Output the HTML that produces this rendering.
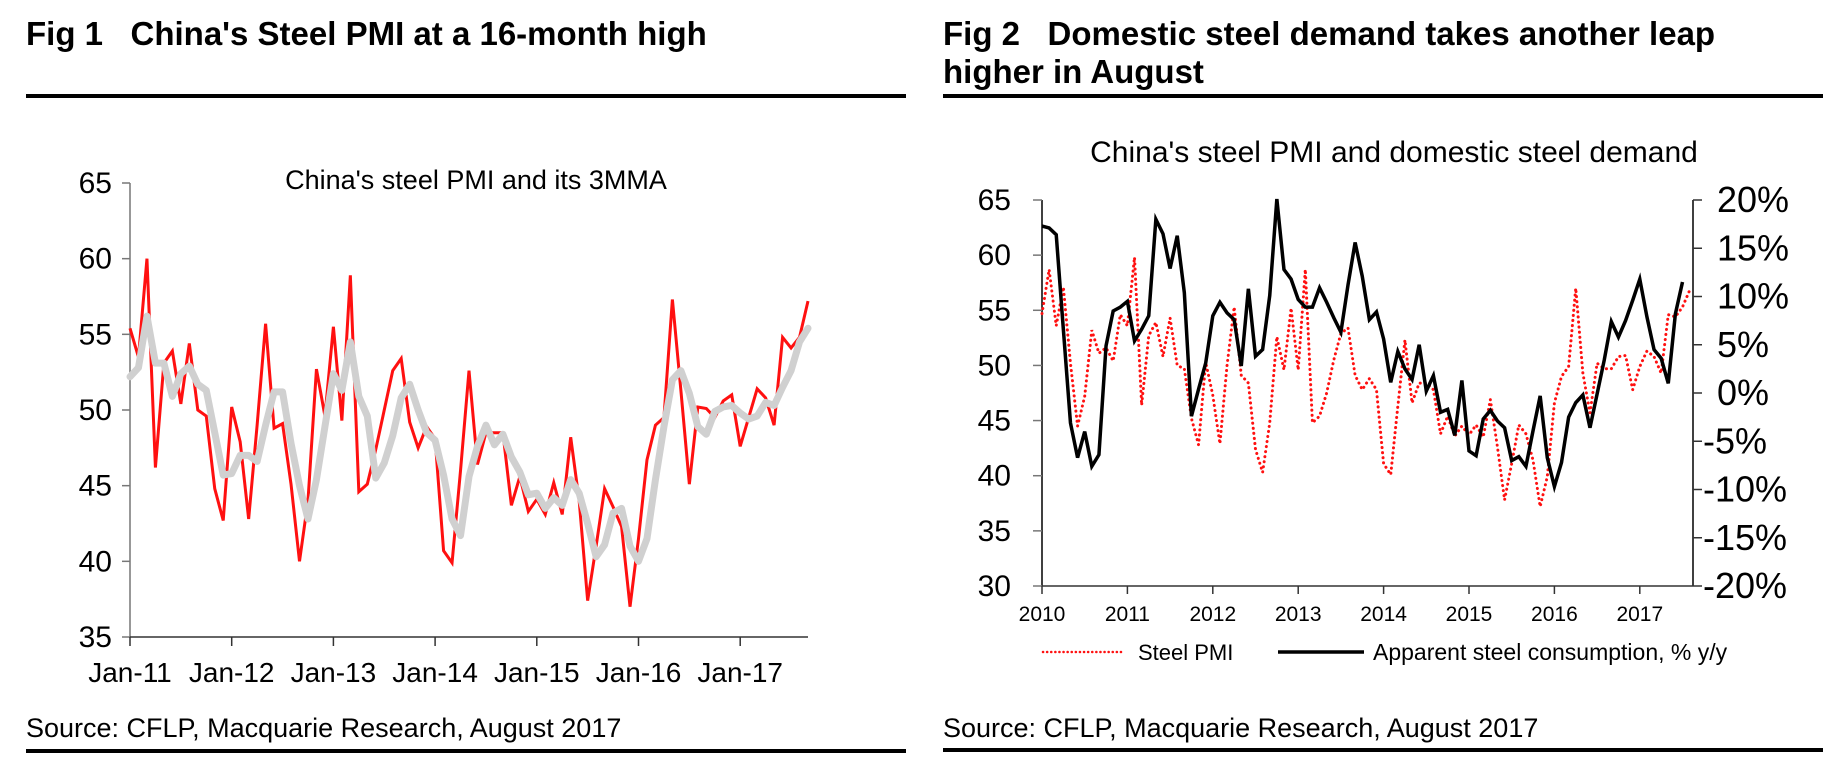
<!DOCTYPE html>
<html><head><meta charset="utf-8"><title>Steel PMI charts</title>
<style>
html,body{margin:0;padding:0;background:#fff;}
svg{display:block;font-family:"Liberation Sans",Arial,sans-serif;}
</style></head>
<body>
<svg id="root" width="1839" height="762" viewBox="0 0 1839 762" xmlns="http://www.w3.org/2000/svg">
  <text x="26" y="45" font-size="33" font-weight="bold">Fig 1&#160;&#160;&#160;China's Steel PMI at a 16-month high</text>
  <rect x="26" y="94" width="880" height="4" fill="#000"/>
  <text x="943" y="45" font-size="33" font-weight="bold">Fig 2&#160;&#160;&#160;Domestic steel demand takes another leap</text>
  <text x="943" y="83" font-size="33" font-weight="bold">higher in August</text>
  <rect x="943" y="94" width="880" height="4" fill="#000"/>

  <text x="476" y="189" font-size="27" text-anchor="middle">China's steel PMI and its 3MMA</text>
  <text x="1394" y="162" font-size="30" text-anchor="middle">China's steel PMI and domestic steel demand</text>

  <g id="c1"></g>
  <g id="c2"></g>

  <text x="26" y="737" font-size="27">Source: CFLP, Macquarie Research, August 2017</text>
  <rect x="26" y="749" width="880" height="4" fill="#000"/>
  <text x="943" y="737" font-size="27">Source: CFLP, Macquarie Research, August 2017</text>
  <rect x="943" y="748" width="880" height="4" fill="#000"/>
</svg>
<script>
// ---------- Fig 1 data (monthly, Jan-11 .. Sep-17) ----------
const pmi1 = [55.4,53.5,60.0,46.2,53.1,53.9,50.4,54.4,50.0,49.6,44.8,42.7,50.2,47.9,42.8,49.0,55.7,48.8,49.1,45.1,40.0,44.0,52.7,49.6,55.5,49.3,58.9,44.6,45.1,47.4,50.0,52.6,53.4,49.2,47.5,48.9,48.1,40.7,39.9,46.0,52.6,46.4,48.5,48.5,48.5,43.7,45.6,43.3,44.1,43.1,45.2,43.1,48.2,44.0,37.4,41.0,44.8,43.6,42.3,37.0,41.5,46.7,49.0,49.5,57.3,51.3,45.1,50.2,50.1,49.5,50.6,51.0,47.6,49.5,51.4,50.8,49.0,54.8,54.1,54.8,57.2];
const mma1 = [52.2,52.8,56.2,53.1,53.1,50.9,52.4,52.9,51.7,51.3,48.5,45.7,45.8,47.0,47.0,46.6,49.0,51.2,51.2,47.8,45.0,42.8,45.4,48.9,52.4,51.3,54.5,50.9,49.6,45.5,46.5,48.3,50.8,51.7,50.0,48.5,48.0,45.7,42.8,41.7,45.6,47.6,49.0,47.7,48.4,46.9,45.9,44.4,44.5,43.5,44.2,43.7,45.4,44.5,42.5,40.3,41.1,43.2,43.5,41.0,40.0,41.5,45.4,48.9,52.0,52.6,51.1,48.9,48.4,49.9,50.2,50.3,49.8,49.4,49.6,50.5,50.3,51.5,52.6,54.5,55.4];
const yTicks1 = [35,40,45,50,55,60,65];
const xLabels1 = ["Jan-11","Jan-12","Jan-13","Jan-14","Jan-15","Jan-16","Jan-17"];

// ---------- Fig 2 data (monthly, Jan-10 ..) ----------
const pmi2 = [54.7,58.7,53.6,57.1,50.2,44.5,47.2,53.2,51.1,51.6,50.4,54.6,53.6,59.8,46.4,52.7,53.9,50.8,54.3,50.0,49.7,45.2,42.8,50.3,47.3,42.9,50.0,55.3,49.1,48.4,42.4,40.3,44.8,52.6,49.6,55.2,49.6,58.7,44.8,45.4,47.5,50.5,52.9,53.4,49.1,47.8,48.8,47.8,41.1,40.1,46.3,52.3,46.6,48.4,48.4,47.8,43.8,45.4,43.6,44.5,43.7,44.6,43.5,46.9,42.6,37.8,41.1,44.6,43.8,41.4,37.2,39.9,46.6,49.0,49.9,57.0,49.3,45.7,50.2,49.7,49.7,50.8,50.9,47.8,49.9,51.3,50.8,49.3,54.6,54.4,55.3,56.8];
const consumption = [17.3,17.1,16.4,6.6,-3.1,-6.7,-4.0,-7.6,-6.4,4.9,8.5,8.9,9.5,5.4,6.6,8.0,18.0,16.5,12.9,16.3,10.4,-2.4,0.4,3.1,8.0,9.4,8.3,7.6,2.8,10.8,3.8,4.5,10.1,20.1,12.8,11.8,9.7,8.9,8.9,10.9,9.4,7.8,6.3,11.2,15.6,12.1,7.6,8.4,5.6,1.1,4.3,2.5,1.4,5.0,0.2,1.8,-2.0,-1.7,-4.4,1.3,-6.0,-6.5,-2.7,-1.8,-2.9,-3.6,-7.0,-6.6,-7.6,-3.9,-0.3,-6.7,-9.7,-7.2,-2.5,-1.0,-0.2,-3.6,-0.1,3.4,7.4,5.8,7.5,9.6,11.8,7.9,4.5,3.6,1.0,8.2,11.5];
const yTicksL2 = [30,35,40,45,50,55,60,65];
const yTicksR2 = [-20,-15,-10,-5,0,5,10,15,20];
const xLabels2 = ["2010","2011","2012","2013","2014","2015","2016","2017"];

const NS = "http://www.w3.org/2000/svg";
function mk(tag, attrs, parent){ const e=document.createElementNS(NS,tag); for(const k in attrs) e.setAttribute(k,attrs[k]); parent.appendChild(e); return e; }

// ---------- Fig 1 ----------
(function(){
  const g = document.getElementById('c1');
  const x0=130, x1=808, yTop=183, yBot=637, vMin=35, vMax=65;
  const n = pmi1.length;
  const xs = i => x0 + i*(x1-x0)/(n-1);
  const ys = v => yBot - (v-vMin)/(vMax-vMin)*(yBot-yTop);
  const yAxis = mk('line',{x1:x0,y1:yTop,x2:x0,y2:yBot,stroke:'#777','stroke-width':1.5},g);
  
  
  const xAxis = mk('line',{x1:x0,y1:yBot,x2:x1,y2:yBot,stroke:'#333','stroke-width':1.5},g);
  
  
  yTicks1.forEach(v=>{
    const t = mk('line',{x1:x0-8,y1:ys(v),x2:x0,y2:ys(v),stroke:'#777','stroke-width':1.5},g);
    
    
    const l = mk('text',{x:x0-18,y:ys(v)+10,'font-size':30,'text-anchor':'end'},g);
    l.textContent = v;
    
    
  });
  xLabels1.forEach((s,k)=>{
    const x = xs(k*12);
    const t = mk('line',{x1:x,y1:yBot,x2:x,y2:yBot+9,stroke:'#333','stroke-width':1.5},g);
    
    
    const l = mk('text',{x:x,y:yBot+45,'font-size':28,'text-anchor':'middle'},g);
    l.textContent = s;
    
    
  });
  const red = mk('polyline',{points:pmi1.map((v,i)=>xs(i)+','+ys(v)).join(' '),fill:'none',stroke:'#ff1010','stroke-width':3,'stroke-linejoin':'miter'},g);
  
  
  const grey = mk('polyline',{points:mma1.map((v,i)=>xs(i)+','+ys(v)).join(' '),fill:'none',stroke:'#d0d0d0','stroke-width':7,'stroke-linejoin':'round','stroke-linecap':'round'},g);
  
  
})();

// ---------- Fig 2 ----------
(function(){
  const g = document.getElementById('c2');
  const x0=1042, xR=1693, yTop=200, yBot=586;
  const step = 85.4/12;
  const xs = i => x0 + i*step;
  const yl = v => yBot - (v-30)/35*(yBot-yTop);
  const yr = p => yBot - (p+20)/40*(yBot-yTop);
  const la = mk('line',{x1:x0,y1:yTop,x2:x0,y2:yBot,stroke:'#000','stroke-width':1.5},g);
  
  
  const ra = mk('line',{x1:xR,y1:yTop,x2:xR,y2:yBot,stroke:'#000','stroke-width':1.5},g);
  
  
  const xa = mk('line',{x1:x0,y1:yBot,x2:xR,y2:yBot,stroke:'#333','stroke-width':1.5},g);
  
  
  yTicksL2.forEach(v=>{
    const t = mk('line',{x1:x0-9,y1:yl(v),x2:x0,y2:yl(v),stroke:'#777','stroke-width':1.5},g);
    
    
    const l = mk('text',{x:1011,y:yl(v)+10,'font-size':30,'text-anchor':'end'},g);
    l.textContent = v;
    
    
  });
  yTicksR2.forEach(p=>{
    const t = mk('line',{x1:xR,y1:yr(p),x2:xR+9,y2:yr(p),stroke:'#333','stroke-width':1.5},g);
    
    
    const l = mk('text',{x:(p<0?1703:1717),y:yr(p)+12,'font-size':36},g);
    l.textContent = p+'%';
    
    
  });
  xLabels2.forEach((s,k)=>{
    const x = xs(k*12);
    const t = mk('line',{x1:x,y1:yBot,x2:x,y2:yBot+8,stroke:'#333','stroke-width':1.5},g);
    
    
    const l = mk('text',{x:x,y:yBot+35,'font-size':21,'text-anchor':'middle'},g);
    l.textContent = s;
    
    
  });
  const red = mk('polyline',{points:pmi2.map((v,i)=>xs(i)+','+yl(v)).join(' '),fill:'none',stroke:'#ff1010','stroke-width':3,'stroke-dasharray':'0.1 5','stroke-linecap':'round'},g);
  
  
  const blk = mk('polyline',{points:consumption.map((p,i)=>xs(i)+','+yr(p)).join(' '),fill:'none',stroke:'#000','stroke-width':3.5,'stroke-linejoin':'miter'},g);
  
  
  // legend
  const lg = mk('g',{},g);
  
  
  const l1 = mk('line',{x1:1043,y1:652,x2:1122,y2:652,stroke:'#ff1010','stroke-width':2.5,'stroke-dasharray':'0.1 4','stroke-linecap':'round'},lg);
  
  
  const t1 = mk('text',{x:1138,y:660,'font-size':22},lg);
  t1.textContent = 'Steel PMI';
  
  
  const l2 = mk('line',{x1:1278,y1:652,x2:1364,y2:652,stroke:'#000','stroke-width':3.5},lg);
  
  
  const t2 = mk('text',{x:1373,y:660,'font-size':23},lg);
  t2.textContent = 'Apparent steel consumption, % y/y';
  
  
})();
</script>
</body></html>
